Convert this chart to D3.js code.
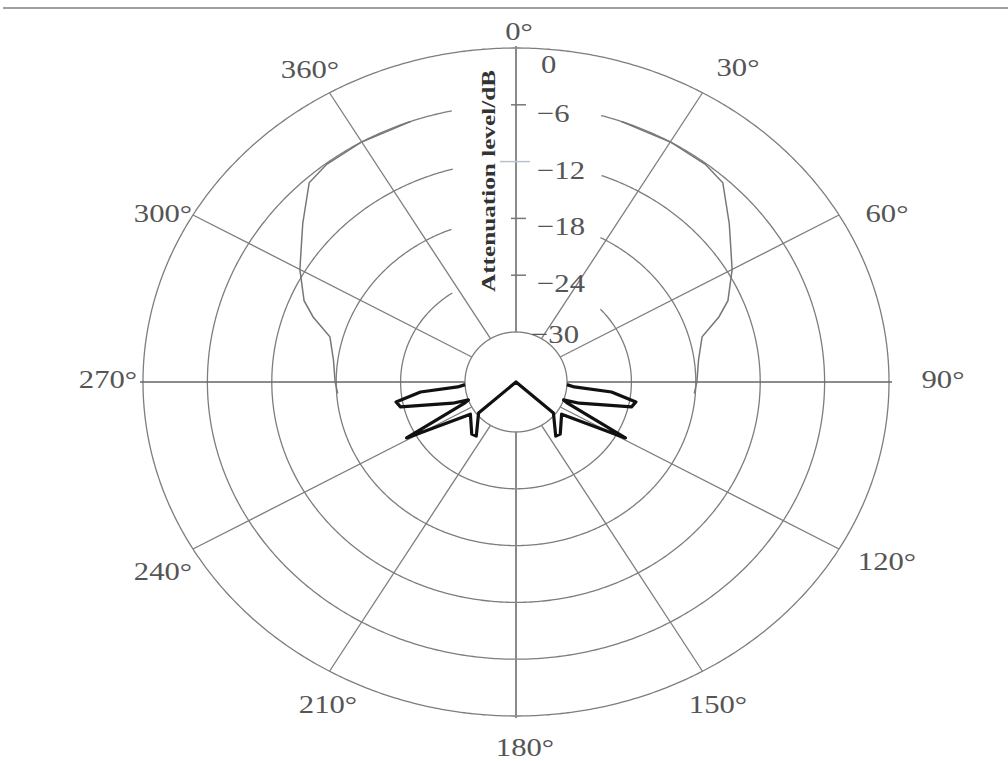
<!DOCTYPE html>
<html>
<head>
<meta charset="utf-8">
<script src="https://cdn.jsdelivr.net/npm/d3@7"></script>
<style>
  html, body { margin: 0; padding: 0; background: #fff; }
  svg { display: block; }
</style>
</head>
<body>
<svg id="chart" width="1008" height="761"></svg>
<script>
// Radial levels (dB) and angular tick labels
const levels = [0, -6, -12, -18, -24, -30];
const levelLabels = ["0", "\u22126", "\u221212", "\u221218", "\u221224", "\u221230"];
const angleTicks = [0, 30, 60, 90, 120, 150, 180, 210, 240, 270, 300, 330];
const angleLabels = ["0°", "30°", "60°", "90°", "120°", "150°", "180°", "210°", "240°", "270°", "300°", "360°"];
const axisTitle = "Attenuation level/dB";

// Main lobe (right half, degrees from 0° clockwise); mirrored for the left half
const upperAngles = [20, 30, 38, 43, 50.5, 60, 67, 70.5, 75, 82.5, 90, 94];
const upperValues = [-6, -6, -6.1, -6.5, -9, -11.5, -13.3, -14.7, -16.8, -17.6, -17.9, -18.1];

// Back lobes (right half, from 90° toward 180°); mirrored for the left half
const lowerAngles = [93, 95, 96.4, 100.2, 103.1, 109.3, 111, 113, 119, 126, 141, 145, 130, 180];
const lowerValues = [-30, -29.3, -25.8, -23.4, -23.7, -28.5, -30, -29.5, -23.1, -29.5, -28.2, -28.3, -30.2, -40];

const W = 1008, H = 761;
const cx = 516, cy = 382;
const svg = d3.select("#chart");

// Slightly elliptical polar frame: separate horizontal and vertical radius scales
const rX = d3.scaleLinear().domain([-30, 0]).range([51, 373]);
const rY = d3.scaleLinear().domain([-30, 0]).range([50, 334]);
const ang = d3.scaleLinear().domain([0, 360]).range([0, 2 * Math.PI]);

function pt(a, v) {
  const t = ang(a);
  const rx = Math.max(0, rX(v)), ry = Math.max(0, rY(v));
  return [cx + rx * Math.sin(t), cy - ry * Math.cos(t)];
}

const grid = "#7d7d7d";
const serif = "Liberation Serif, 'DejaVu Serif', serif";

// top rule
svg.append("line").attr("x1", 3).attr("x2", W).attr("y1", 8).attr("y2", 8)
  .attr("stroke", "#a0a0a0").attr("stroke-width", 2);

const g = svg.append("g");

// rings: outer and inner full, middle ones broken around the radial labels
levels.forEach(v => {
  const pts = [];
  for (let a = -180; a <= 180; a += 0.5) {
    const p = pt(a, v);
    const inGap = v < 0 && v > -30 && p[1] < cy && p[0] > cx - 63 && p[0] < cx + 84;
    pts.push(inGap ? null : p);
  }
  g.append("path").attr("d", d3.line().defined(d => d !== null)(pts))
    .attr("fill", "none").attr("stroke", grid).attr("stroke-width", 1.3);
});

// spokes from the inner circle to the outer ring
angleTicks.forEach(a => {
  if (a % 90 === 0) return;
  const p0 = pt(a, -30), p1 = pt(a, 0);
  g.append("line").attr("x1", p0[0]).attr("y1", p0[1]).attr("x2", p1[0]).attr("y2", p1[1])
    .attr("stroke", grid).attr("stroke-width", 1.3);
});
// horizontal axis (90° / 270°), outside the inner circle
[90, 270].forEach(a => {
  const p0 = pt(a, -30), p1 = pt(a, 0);
  const ext = a === 90 ? 1 : -1;
  g.append("line").attr("x1", p0[0]).attr("y1", p0[1]).attr("x2", p1[0] + ext * 3).attr("y2", p1[1])
    .attr("stroke", "#666").attr("stroke-width", 1.6);
});

// vertical radial axis with ticks
const axisY = d3.scaleLinear().domain([-30, 0]).range([cy - rY(-30), cy - rY(0)]);
g.append("line").attr("x1", cx).attr("x2", cx).attr("y1", axisY(-30)).attr("y2", axisY(0) - 2)
  .attr("stroke", "#8a8a8a").attr("stroke-width", 2);
g.append("line").attr("x1", cx).attr("x2", cx).attr("y1", cy + rY(-30)).attr("y2", cy + rY(0) + 2)
  .attr("stroke", "#8a8a8a").attr("stroke-width", 2);
levels.forEach((v, i) => {
  if (v !== 0 && v !== -30) {
    const wide = v === -12;
    g.append("line").attr("x1", wide ? cx - 16 : cx - 5).attr("x2", cx + (wide ? 14 : 10))
      .attr("y1", axisY(v)).attr("y2", axisY(v))
      .attr("stroke", wide ? "#b9c2cc" : "#777").attr("stroke-width", 1.5);
  }
  const bx = v === 0 ? 541 : v === -30 ? 531 : 537;
  const by = axisY(v) + (v === 0 ? 25 : v === -30 ? 11 : 17);
  svg.append("text").attr("transform", `translate(${bx},${by}) scale(1.18,1)`)
    .attr("font-family", serif).attr("font-size", 26)
    .attr("fill", "#555").text(levelLabels[i]);
});

// axis title, rotated
svg.append("text")
  .attr("transform", `translate(${495},${292}) rotate(-90)`)
  .attr("font-family", serif).attr("font-size", 19).attr("font-weight", "bold")
  .attr("fill", "#333").attr("textLength", 222).attr("lengthAdjust", "spacingAndGlyphs")
  .text(axisTitle);

// angle labels
const labelPos = {
  0: [519, 40], 30: [738, 76], 60: [887, 222], 90: [943, 388], 120: [887, 570], 150: [718, 713],
  180: [525, 756], 210: [328, 713], 240: [163, 580], 270: [108, 388], 300: [163, 222], 330: [310, 78]
};
angleTicks.forEach((a, i) => {
  const [x, y] = labelPos[a];
  svg.append("text").attr("transform", `translate(${x},${y}) scale(1.18,1)`)
    .attr("text-anchor", "middle")
    .attr("font-family", serif).attr("font-size", 26)
    .attr("fill", "#555").text(angleLabels[i]);
});

// lobes: right half from the data, left half mirrored
const rightUpper = upperAngles.map((a, i) => [a, upperValues[i]]);
const leftUpper = rightUpper.map(([a, v]) => [360 - a, v]);
[rightUpper, leftUpper].forEach(seq => {
  svg.append("path").attr("d", d3.line()(seq.map(([a, v]) => pt(a, v))))
    .attr("fill", "none").attr("stroke", "#777").attr("stroke-width", 1.5);
});

const rightLower = lowerAngles.map((a, i) => [a, lowerValues[i]]);
const leftLower = rightLower.slice().reverse().map(([a, v]) => [360 - a, v]);
const lowerSeq = rightLower.concat(leftLower.slice(1)).map(([a, v]) => pt(a, v));
svg.append("path").attr("d", d3.line()(lowerSeq))
  .attr("fill", "none").attr("stroke", "#111").attr("stroke-width", 3.2)
  .attr("stroke-linejoin", "round");
</script>
</body>
</html>
